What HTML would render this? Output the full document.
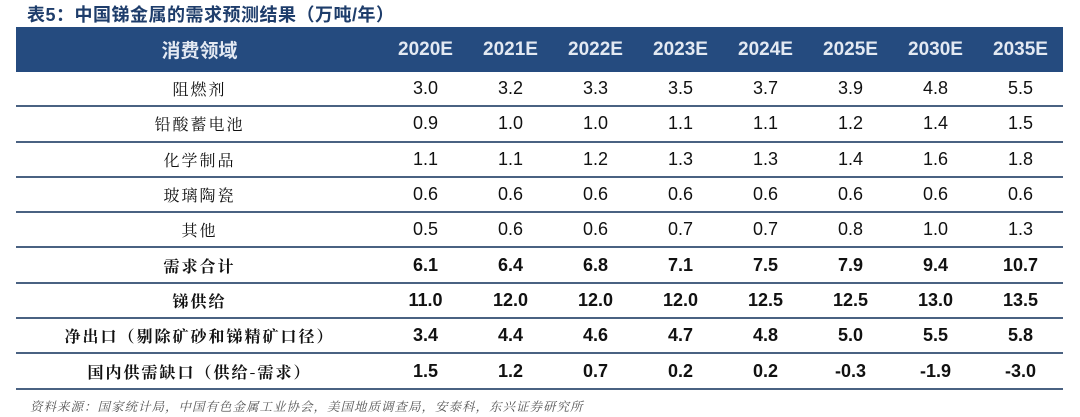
<!DOCTYPE html>
<html><head><meta charset="utf-8"><style>
body{margin:0;width:1080px;height:417px;background:#fff;overflow:hidden;font-family:"Liberation Sans","Noto Sans CJK SC",sans-serif;position:relative}
#title{position:absolute;left:27px;top:1px;font-size:18px;font-weight:bold;color:#1e3d6b;letter-spacing:0.5px}
#tbl{position:absolute;left:16px;top:27px;width:1047px;border-collapse:collapse}
#tbl th{background:#254b7f;color:#e3e9f2;font-size:19px;height:45px;font-weight:bold;padding:0}
#tbl td{height:33.3px;border-bottom:2px solid #4a6282;text-align:center;font-size:18px;color:#111;padding:0}
#tbl td.l{font-family:"Noto Serif CJK SC","Noto Sans CJK SC",serif;letter-spacing:2px;font-size:16px}
#tbl tr.b td{font-weight:bold}
#src{position:absolute;left:30px;top:397px;font-size:12.5px;font-style:italic;color:#555;font-family:"Noto Serif CJK SC",serif;letter-spacing:1px}
</style></head><body>
<div id="title">表5：中国锑金属的需求预测结果（万吨/年）</div>
<table id="tbl">
<colgroup><col style="width:367px"><col span="8" style="width:85px"></colgroup>
<thead><tr><th>消费领域</th><th>2020E</th><th>2021E</th><th>2022E</th><th>2023E</th><th>2024E</th><th>2025E</th><th>2030E</th><th>2035E</th></tr></thead>
<tbody id="body"></tbody>
</table>
<div id="src">资料来源：国家统计局，中国有色金属工业协会，美国地质调查局，安泰科，东兴证券研究所</div>
<script>
const rowLabels=["阻燃剂","铅酸蓄电池","化学制品","玻璃陶瓷","其他","需求合计","锑供给","净出口（剔除矿砂和锑精矿口径）","国内供需缺口（供给-需求）"];
const boldRows=[false,false,false,false,false,true,true,true,true];
const values=[
["3.0","3.2","3.3","3.5","3.7","3.9","4.8","5.5"],
["0.9","1.0","1.0","1.1","1.1","1.2","1.4","1.5"],
["1.1","1.1","1.2","1.3","1.3","1.4","1.6","1.8"],
["0.6","0.6","0.6","0.6","0.6","0.6","0.6","0.6"],
["0.5","0.6","0.6","0.7","0.7","0.8","1.0","1.3"],
["6.1","6.4","6.8","7.1","7.5","7.9","9.4","10.7"],
["11.0","12.0","12.0","12.0","12.5","12.5","13.0","13.5"],
["3.4","4.4","4.6","4.7","4.8","5.0","5.5","5.8"],
["1.5","1.2","0.7","0.2","0.2","-0.3","-1.9","-3.0"]];
const tb=document.getElementById('body');
rowLabels.forEach((lab,i)=>{
const tr=document.createElement('tr');


if(boldRows[i])tr.className='b';
const td=document.createElement('td');td.className='l';td.textContent=lab;


tr.appendChild(td);
values[i].forEach(v=>{const c=document.createElement('td');c.textContent=v;


tr.appendChild(c);});
tb.appendChild(tr);});
</script>
</body></html>
